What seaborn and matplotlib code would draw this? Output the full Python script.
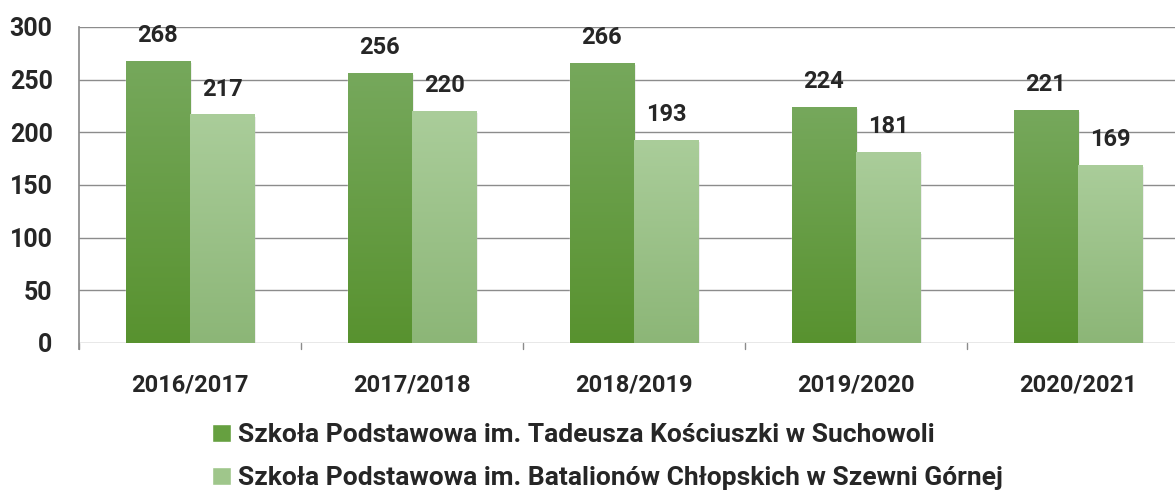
import numpy as np
import pandas as pd
import seaborn as sns
import matplotlib.pyplot as plt
from matplotlib.colors import LinearSegmentedColormap
from matplotlib.patches import Patch

years = ["2016/2017", "2017/2018", "2018/2019", "2019/2020", "2020/2021"]
school_a = "Szkoła Podstawowa im. Tadeusza Kościuszki w Suchowoli"
school_b = "Szkoła Podstawowa im. Batalionów Chłopskich w Szewni Górnej"
values_a = [268, 256, 266, 224, 221]
values_b = [217, 220, 193, 181, 169]

df = pd.DataFrame({
    "rok": years * 2,
    "szkola": [school_a] * len(years) + [school_b] * len(years),
    "uczniowie": values_a + values_b,
})

sns.set_theme(style="white")
plt.rcParams['font.family'] = ['Roboto', 'DejaVu Sans']
W = "semibold"

fig = plt.figure(figsize=(11.75, 4.93), dpi=100)
ax = fig.add_axes([79 / 1175, 150 / 493, 1110 / 1175, 316 / 493])

palette = {school_a: "#66a040", school_b: "#9fc68b"}
sns.barplot(data=df, x="rok", y="uczniowie", hue="szkola", palette=palette,
            width=0.58, ax=ax, legend=False, saturation=1)

# gradient fills like the original
grads = {
    school_a: LinearSegmentedColormap.from_list("a", ["#58922f", "#76a85c"]),
    school_b: LinearSegmentedColormap.from_list("b", ["#8cb677", "#aacd9a"]),
}
grad = np.linspace(0, 1, 256).reshape(-1, 1)
for cont, name in zip(ax.containers, [school_a, school_b]):
    for bar in cont:
        x0, y0 = bar.get_x(), bar.get_y()
        w, h = bar.get_width(), bar.get_height()
        # soft shadow on the right
        ax.add_patch(plt.Rectangle((x0 + w, y0), 0.008, h - 2, color="#000000",
                                   alpha=0.08, lw=0, zorder=1.5))
        im = ax.imshow(grad, cmap=grads[name], aspect="auto", origin="lower",
                       extent=[x0, x0 + w, y0, y0 + h], zorder=2)
        im.set_clip_path(bar)
        bar.set_zorder(2)
    ax.bar_label(cont, padding=10, fontsize=17, fontweight=W)

ax.set_xlim(-0.5, 4.5)
ax.set_ylim(0, 300)
ax.set_yticks(range(0, 301, 50))
ax.yaxis.grid(True, color="#8c8c8c", lw=1)
ax.set_axisbelow(True)
ax.set_xlabel("")
ax.set_ylabel("")
for s in ["top", "right", "bottom"]:
    ax.spines[s].set_visible(False)
ax.spines["left"].set_color("#8c8c8c")
ax.spines["left"].set_bounds(-6, 300)
ax.tick_params(axis="y", length=0, pad=19, labelsize=18)
ax.tick_params(axis="x", length=0, pad=22, labelsize=17)
for lab in ax.get_xticklabels() + ax.get_yticklabels():
    lab.set_fontweight(W)
# small tick marks between categories on the baseline
for xb in np.arange(-0.5, 4.6, 1):
    ax.plot([xb, xb], [0, -6], color="#8c8c8c", lw=1, clip_on=False)

handles = [Patch(facecolor="#66a040", label=school_a),
           Patch(facecolor="#9fc68b", label=school_b)]
fig.legend(handles=handles, loc="center left", bbox_to_anchor=(191 / 1175, 0.074),
           ncol=1, frameon=False, handlelength=0.7, handleheight=0.7,
           handletextpad=0.3, labelspacing=0.72, borderpad=0.3,
           prop={"weight": W, "size": 19})

fig.savefig("out.png", dpi=100)
